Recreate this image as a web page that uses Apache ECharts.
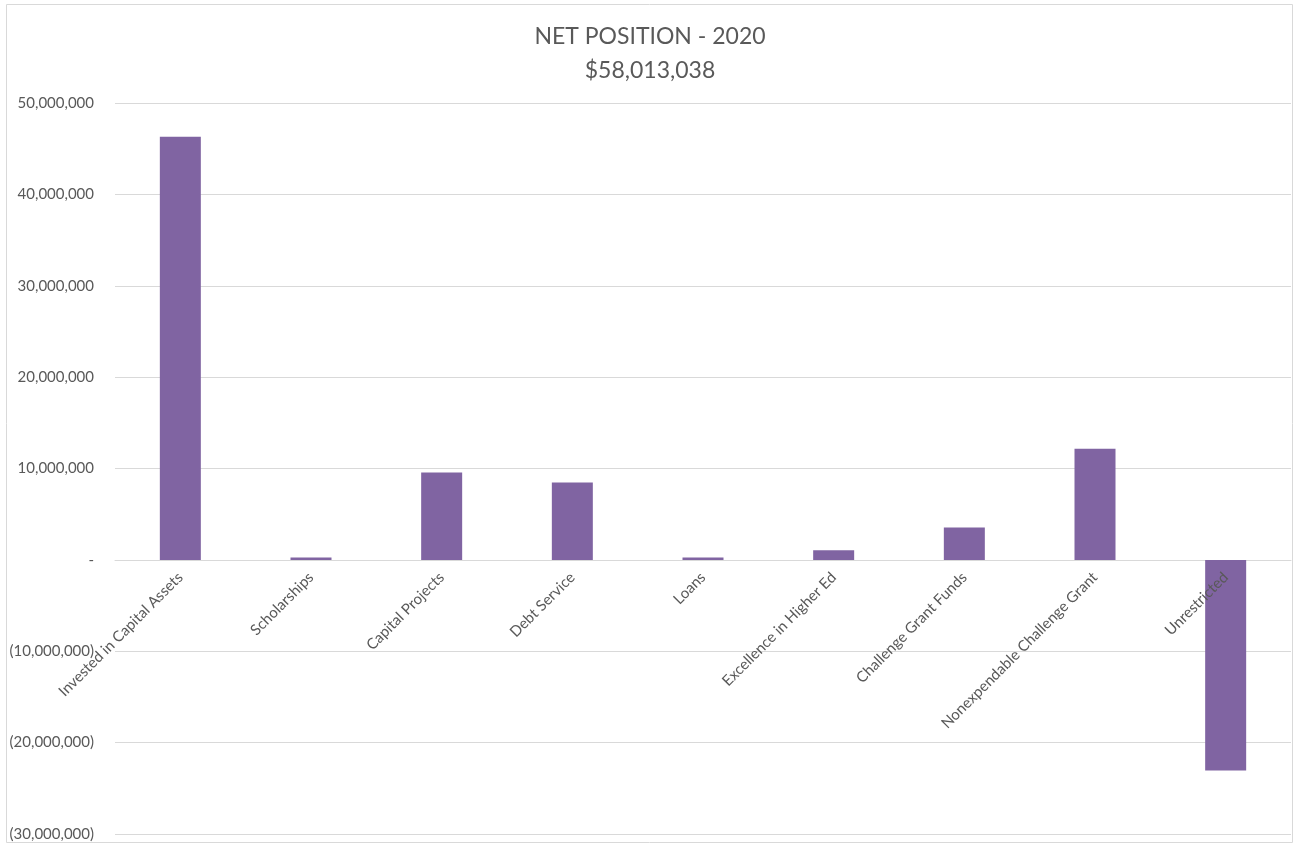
<!DOCTYPE html>
<html>
<head>
<meta charset="utf-8">
<script src="https://cdn.jsdelivr.net/npm/echarts@6/dist/echarts.min.js"></script>
<style>
html,body{margin:0;padding:0;background:#fff;}
#chart{width:1300px;height:846px;}
</style>
</head>
<body>
<div id="chart"></div>
<script>
const categories = [
  'Invested in Capital Assets',
  'Scholarships',
  'Capital Projects',
  'Debt Service',
  'Loans',
  'Excellence in Higher Ed',
  'Challenge Grant Funds',
  'Nonexpendable Challenge Grant',
  'Unrestricted'
];
const values = [46300000, 270000, 9550000, 8460000, 270000, 1040000, 3550000, 12170000, -23060000];
const titleLines = ['NET POSITION - 2020', '$58,013,038'];
const yMin = -30000000, yMax = 50000000, yStep = 10000000;

const FONT = 'Lato, "Open Sans", sans-serif';
const GRID = {left: 115, right: 9, top: 103, bottom: 12};
const gridH = 846 - GRID.top - GRID.bottom;
const zeroOffset = -gridH * (0 - yMin) / (yMax - yMin);

const chart = echarts.init(document.getElementById('chart'));

function fmt(v) {
  if (v === 0) return '-';
  const s = Math.abs(v).toLocaleString('en-US');
  return v < 0 ? '(' + s + ')' : s;
}

chart.setOption({
  animation: false,
  title: {
    text: titleLines.join('\n'),
    left: 'center',
    top: 15,
    textStyle: {
      fontFamily: FONT,
      fontSize: 23,
      fontWeight: 'normal',
      color: '#595959',
      lineHeight: 34
    }
  },
  graphic: [{
    type: 'rect',
    shape: {x: 6.5, y: 4.5, width: 1286, height: 838},
    style: {fill: 'none', stroke: '#d9d9d9', lineWidth: 1},
    silent: true
  }],
  grid: Object.assign({containLabel: false, outerBoundsMode: 'none'}, GRID),
  xAxis: [{
    type: 'category',
    data: categories,
    axisLine: {onZero: true, lineStyle: {color: '#d9d9d9', width: 1}},
    axisTick: {show: false},
    axisLabel: {show: false}
  }, {
    type: 'category',
    data: categories,
    position: 'bottom',
    offset: zeroOffset,
    z: 5,
    axisLine: {show: false, onZero: false},
    axisTick: {show: false},
    splitLine: {show: false},
    axisLabel: {
      rotate: 45,
      interval: 0,
      margin: 15,
      color: '#595959',
      fontFamily: FONT,
      fontSize: 15
    }
  }],
  yAxis: {
    type: 'value',
    min: yMin,
    max: yMax,
    interval: yStep,
    axisLine: {show: false},
    axisTick: {show: false},
    splitLine: {lineStyle: {color: '#d9d9d9', width: 1}},
    axisLabel: {
      margin: 21,
      color: '#595959',
      fontFamily: FONT,
      fontSize: 15,
      formatter: fmt
    }
  },
  series: [{
    type: 'bar',
    data: values,
    barWidth: 41,
    itemStyle: {color: '#8064a2'}
  }]
});
</script>
</body>
</html>
